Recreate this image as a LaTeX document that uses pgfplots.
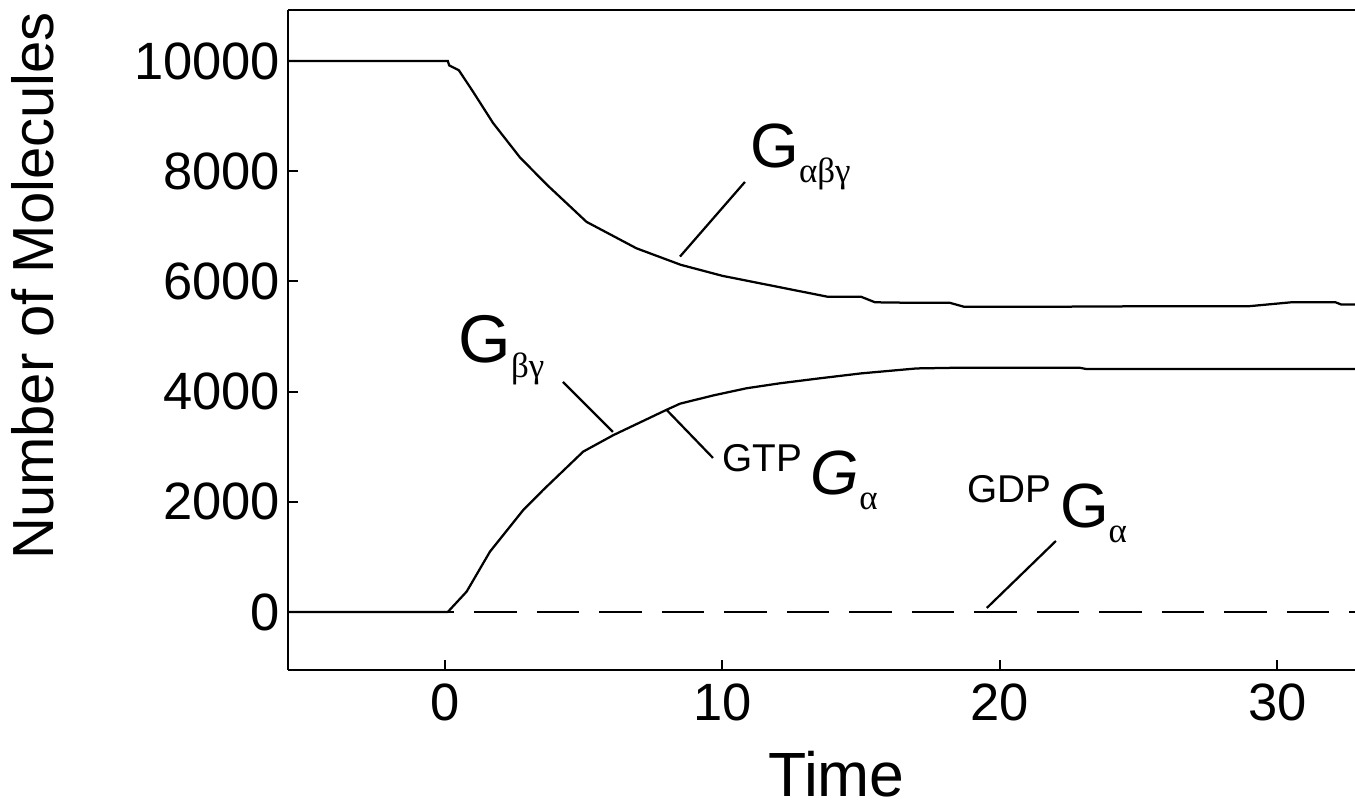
\documentclass[border=0pt]{standalone}
\usepackage{fontspec}
\setmainfont{Liberation Sans}
\newfontfamily\grk{Liberation Serif}
\usepackage{pgfplots}
\pgfplotsset{compat=1.18}

% big G, greek subscript, small prefix (GTP / GDP)
\newcommand{\GG}[1][25]{\fontsize{#1}{#1}\selectfont G}
\newcommand{\grsub}[1]{\raisebox{-6pt}{\fontsize{14}{14}\selectfont\grk\upshape #1}}
\newcommand{\pre}[2]{\raisebox{#2}{\fontsize{15.5}{15.5}\selectfont\upshape #1}\hspace{3.5pt}}

\begin{document}
\begin{tikzpicture}
\begin{axis}[
    scale only axis,
    width=426.8pt, height=264pt,
    xmin=-5.66, xmax=32.8,
    ymin=-1053, ymax=10925,
    axis x line*=box, axis y line*=left,
    xtick={0,10,20,30}, xtick pos=bottom,
    ytick={0,2000,4000,6000,8000,10000},
    scaled y ticks=false,
    tick align=inside, major tick length=4pt,
    axis line style={line width=1pt},
    every tick/.style={line width=0.8pt, black},
    /pgf/number format/assume math mode=true,
    /pgf/number format/1000 sep={},
    ticklabel style={font=\fontsize{21}{21}\selectfont},
    yticklabel style={inner sep=1pt, xshift=-2pt},
    xticklabel style={yshift=-2pt},
    xlabel={Time}, ylabel={Number of Molecules},
    xlabel style={font=\fontsize{25}{25}\selectfont, at={(axis description cs:0.514,-0.192)}, anchor=base},
    ylabel style={font=\fontsize{23.2}{23.2}\selectfont, at={(axis description cs:-0.239,0.582)}, anchor=center},
    clip=true,
]

% G alpha beta gamma
\addplot[black, line width=0.9pt] coordinates {
    (-5.7,10000) (0.1,10000) (0.15,9920) (0.5,9830) (1.0,9450) (1.73,8875)
    (2.7,8250) (3.68,7750) (5.1,7080) (6.9,6600) (8.5,6300) (10,6100)
    (11.5,5950) (13.0,5800) (13.8,5720) (15.0,5720) (15.5,5620) (17,5610)
    (18.2,5610) (18.7,5540) (22,5540) (26,5550) (29,5550) (30.5,5620)
    (32.1,5620) (32.3,5580) (32.8,5580)
};

% G beta gamma (with GTP G alpha)
\addplot[black, line width=0.9pt] coordinates {
    (-5.7,0) (0.1,0) (0.78,370) (1.62,1095) (2.82,1850) (3.54,2215)
    (4.98,2910) (6.07,3210) (7.99,3670) (8.47,3780) (9.67,3930) (10.87,4060)
    (12.07,4150) (13.5,4240) (15,4330) (17,4420) (18.2,4430) (22.9,4430)
    (23.1,4410) (32.8,4410)
};

% GDP G alpha
\addplot[black, line width=0.9pt, dash pattern=on 17pt off 8pt] coordinates {
    (-5.7,0) (32.8,0)
};

% leader lines
\draw[line width=0.9pt] (axis cs:8.47,6450) -- (axis cs:10.81,7804);
\draw[line width=0.9pt] (axis cs:4.25,4174) -- (axis cs:6.05,3267);
\draw[line width=0.9pt] (axis cs:7.99,3666) -- (axis cs:9.66,2795);
\draw[line width=0.9pt] (axis cs:19.53,73) -- (axis cs:22.02,1289);

% labels
\node[anchor=base west, inner sep=0pt] at (axis cs:10.99,8058) {\GG\grsub{αβγ}};
\node[anchor=base west, inner sep=0pt] at (axis cs:0.47,4519) {\GG[27]\grsub{βγ}};
\node[anchor=base west, inner sep=0pt] at (axis cs:9.98,2123) {\pre{GTP}{9.2pt}\itshape\GG\grsub{α}};
\node[anchor=base west, inner sep=0pt] at (axis cs:18.81,1524) {\pre{GDP}{10pt}\GG\grsub{α}};
\end{axis}
\pgfresetboundingbox
\path[use as bounding box] ([xshift=-115.2pt,yshift=-55.2pt]current axis.south west)
    rectangle ([yshift=4pt]current axis.north east);
\end{tikzpicture}
\end{document}
